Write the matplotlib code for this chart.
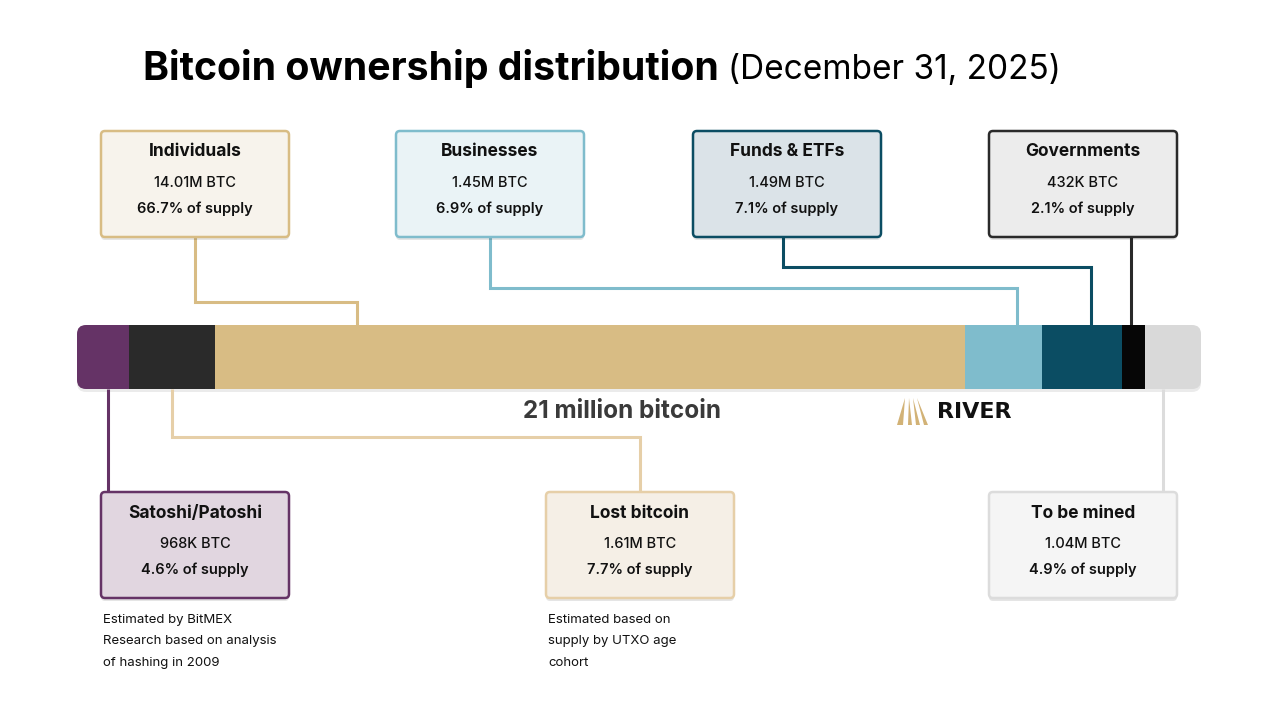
import matplotlib
matplotlib.use("Agg")
import matplotlib.pyplot as plt
from matplotlib.patches import FancyBboxPatch, Polygon

plt.rcParams['font.family'] = ['Inter', 'DejaVu Sans']

# data (millions of BTC, in bar order)
categories = ["Satoshi/Patoshi", "Lost bitcoin", "Individuals", "Businesses",
              "Funds & ETFs", "Governments", "To be mined"]
btc_millions = [0.968, 1.61, 14.01, 1.45, 1.49, 0.432, 1.04]
btc_labels = ["968K BTC", "1.61M BTC", "14.01M BTC", "1.45M BTC",
              "1.49M BTC", "432K BTC", "1.04M BTC"]
pct_labels = ["4.6% of supply", "7.7% of supply", "66.7% of supply", "6.9% of supply",
              "7.1% of supply", "2.1% of supply", "4.9% of supply"]
notes = {"Satoshi/Patoshi": "Estimated by BitMEX\nResearch based on analysis\nof hashing in 2009",
         "Lost bitcoin": "Estimated based on\nsupply by UTXO age\ncohort"}

bar_colors = ["#653366", "#2a2a2a", "#d8bc84", "#7fbccc", "#0b4d63", "#060606", "#d9d9d9"]
box_fill = ["#e1d6e0", "#f5efe6", "#f7f3ec", "#eaf3f6", "#dbe3e8", "#ececec", "#f5f5f5"]
box_edge = ["#653366", "#e6cfa8", "#d8bc84", "#7fbccc", "#0b4d63", "#2a2a2a", "#dcdcdc"]
line_col = ["#653366", "#e6cfa8", "#d8bc84", "#7fbccc", "#0b4d63", "#2a2a2a", "#dcdcdc"]

# layout (pixels): box left, above/below, elbow y, where lines leave the box / land on the segment
box_left = [101, 546, 101, 396, 693, 989, 989]
box_side = ["below", "below", "above", "above", "above", "above", "below"]
elbow_y = [None, 437, 302, 288, 267, None, None]
box_stub_x = [None, None, 195, 490, 783, 1131, None]
anchor_frac = [0.59, 0.5, 0.19, 0.67, 0.61, 0.5, 0.32]

W, H = 1280, 720
BAR_X0, BAR_X1, BAR_Y0, BAR_Y1 = 77, 1201, 325, 389
BOX_W, BOX_H = 188, 106
TOP_BOX_Y, BOT_BOX_Y = 131, 492

fig = plt.figure(figsize=(12.8, 7.2), dpi=100)
fig.patch.set_facecolor("white")
ax = fig.add_axes([0, 0, 1, 1])
ax.set_xlim(0, W)
ax.set_ylim(H, 0)
ax.axis("off")

# stacked bar on its own axes in BTC units
ax_bar = fig.add_axes([BAR_X0 / W, 1 - BAR_Y1 / H, (BAR_X1 - BAR_X0) / W, (BAR_Y1 - BAR_Y0) / H])
ax_bar.set_xlim(0, sum(btc_millions))
ax_bar.set_ylim(-0.5, 0.5)
ax_bar.axis("off")
ax_bar.set_zorder(3)

lefts = []
acc = 0
for v in btc_millions:
    lefts.append(acc)
    acc += v
bars = ax_bar.barh(0, btc_millions, left=lefts, height=1.0, color=bar_colors, linewidth=0)

clip = FancyBboxPatch((BAR_X0, BAR_Y0), BAR_X1 - BAR_X0, BAR_Y1 - BAR_Y0,
                      boxstyle="round,pad=0,rounding_size=9", transform=ax.transData,
                      facecolor="none", edgecolor="none")
ax.add_patch(clip)
for b in bars:
    b.set_clip_path(clip)
# soft shadow under the bar
ax.add_patch(FancyBboxPatch((BAR_X0, BAR_Y0 + 3), BAR_X1 - BAR_X0, BAR_Y1 - BAR_Y0,
                            boxstyle="round,pad=0,rounding_size=9",
                            facecolor="#000000", alpha=0.08, edgecolor="none", zorder=1))


def bar_to_px(val):
    xd = ax_bar.transData.transform((val, 0))[0]
    return ax.transData.inverted().transform((xd, 0))[0]


# callout boxes + connectors
for i, name in enumerate(categories):
    bx = box_left[i]
    by = TOP_BOX_Y if box_side[i] == "above" else BOT_BOX_Y
    cx = bx + BOX_W / 2
    anchor = bar_to_px(lefts[i] + anchor_frac[i] * btc_millions[i])

    if box_side[i] == "above":
        sx = box_stub_x[i]
        if elbow_y[i] is None:
            xs, ys = [sx, sx], [by + BOX_H, BAR_Y0]
        else:
            xs = [sx, sx, anchor, anchor]
            ys = [by + BOX_H, elbow_y[i], elbow_y[i], BAR_Y0]
    else:
        if elbow_y[i] is None:
            xs, ys = [anchor, anchor], [BAR_Y1, by]
        else:
            xs = [anchor, anchor, cx, cx]
            ys = [BAR_Y1, elbow_y[i], elbow_y[i], by]
    ax.plot(xs, ys, color=line_col[i], lw=2.2, solid_capstyle="butt",
            solid_joinstyle="miter", zorder=2)

    ax.add_patch(FancyBboxPatch((bx, by + 3), BOX_W, BOX_H,
                                boxstyle="round,pad=0,rounding_size=4",
                                facecolor="#000000", alpha=0.10, edgecolor="none", zorder=4))
    ax.add_patch(FancyBboxPatch((bx, by), BOX_W, BOX_H,
                                boxstyle="round,pad=0,rounding_size=4",
                                facecolor=box_fill[i], edgecolor=box_edge[i], lw=1.8, zorder=5))
    ax.text(cx, by + 21, name, ha="center", va="center", fontsize=12.5,
            fontweight="bold", color="#111111", zorder=6)
    ax.text(cx, by + 52, btc_labels[i], ha="center", va="center", fontsize=10.5,
            fontweight="medium", color="#111111", zorder=6)
    ax.text(cx, by + 78, pct_labels[i], ha="center", va="center", fontsize=10.5,
            fontweight="semibold", color="#111111", zorder=6)
    if name in notes:
        ax.text(bx + 2, by + BOX_H + 16, notes[name], ha="left", va="top", fontsize=9.5,
                color="#111111", linespacing=2.05, zorder=6)

# title
t1 = ax.text(143, 68, "Bitcoin ownership distribution", ha="left", va="center",
             fontsize=28.3, fontweight="bold", color="#000000")
fig.canvas.draw()
bb = t1.get_window_extent(fig.canvas.get_renderer())
x_after = ax.transData.inverted().transform((bb.x1, 0))[0]
ax.text(x_after + 9, 70, "(December 31, 2025)", ha="left", va="center",
        fontsize=24, color="#000000")

ax.text(622, 411, "21 million bitcoin", ha="center", va="center", fontsize=17.5,
        fontweight="bold", color="#3a3a3a")

# River logo
gold = "#d2b276"
for pts in [[(905, 398), (897, 425), (903, 425)],
            [(909, 398), (908, 425), (912, 425)],
            [(913, 398), (916, 425), (920, 425)],
            [(917, 398), (924, 425), (928, 425)]]:
    ax.add_patch(Polygon(pts, closed=True, facecolor=gold, edgecolor="none"))
ax.text(937, 412, "RIVER", ha="left", va="center", fontsize=16, fontweight="bold",
        family="DejaVu Sans", color="#111111")

fig.savefig("out.png", dpi=100)
